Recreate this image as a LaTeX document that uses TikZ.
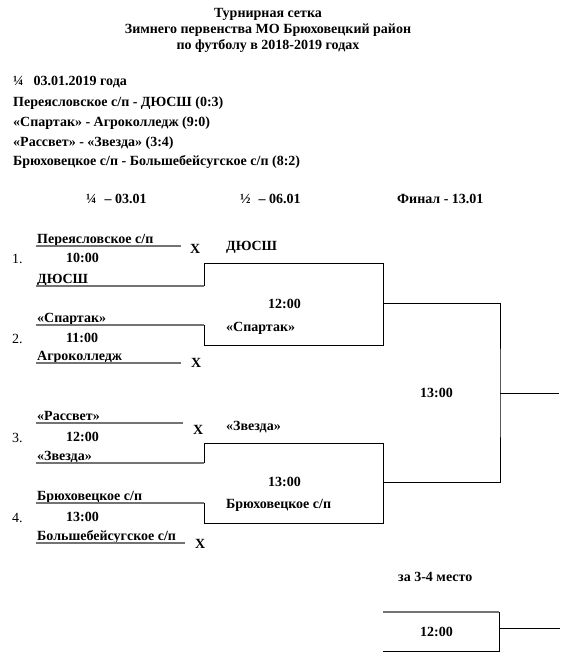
\documentclass[tikz,border=0pt]{standalone}
\usepackage{fontspec}
\setmainfont{Liberation Serif}
\usetikzlibrary{positioning}

\begin{document}
\begin{tikzpicture}[x=1pt, y=-1pt,
  every node/.style={inner sep=0pt, font=\fontsize{14}{16}\selectfont\bfseries},
  lbl/.style={anchor=base west},
  ctr/.style={anchor=base},
  plain/.style={anchor=base west, font=\fontsize{14}{16}\selectfont},
  teamline/.style={draw=black!55, line width=1.6pt},
  wire/.style={draw=black, line width=0.9pt}
]
\useasboundingbox (0,0) rectangle (564,664);

\node[ctr] (title1) at (268,17) {Турнирная сетка};
\node[ctr] (title2) at (268,33) {Зимнего первенства МО Брюховецкий район};
\node[ctr] (title3) at (268,49) {по футболу в 2018-2019 годах};

\node[lbl] (qday) at (13,85)  {¼\hspace{10pt}03.01.2019 года};
\node[lbl] (res1) at (13,106) {Переясловское с/п - ДЮСШ (0:3)};
\node[lbl] (res2) at (13,126) {«Спартак» - Агроколледж (9:0)};
\node[lbl] (res3) at (13,146) {«Рассвет» - «Звезда» (3:4)};
\node[lbl] (res4) at (13,165) {Брюховецкое с/п - Большебейсугское с/п (8:2)};

\node[lbl] (hq) at (86,203)  {¼\hspace{8pt}– 03.01};
\node[lbl] (hs) at (240,203) {½\hspace{8pt}– 06.01};
\node[lbl] (hf) at (397,203) {Финал - 13.01};

% quarter-finals
\node[lbl] (a1) at (37,243) {Переясловское с/п};
\node[lbl] (b1) at (37,283) {ДЮСШ};
\node[lbl] (a2) at (37,322) {«Спартак»};
\node[lbl] (b2) at (37,360) {Агроколледж};
\node[lbl] (a3) at (37,420) {«Рассвет»};
\node[lbl] (b3) at (37,460) {«Звезда»};
\node[lbl] (a4) at (37,500) {Брюховецкое с/п};
\node[lbl] (b4) at (37,540) {Большебейсугское с/п};

\foreach \i/\y in {1/263, 2/343, 3/442, 4/522}
  \node[plain] (n\i) at (12,\y) {\i.};
\node[lbl] (k1) at (66,262) {10:00};
\node[lbl] (k2) at (66,342) {11:00};
\node[lbl] (k3) at (66,441) {12:00};
\node[lbl] (k4) at (66,521) {13:00};

\node[lbl] (x1) at (190,253) {X};
\node[lbl] (x2) at (191,367) {X};
\node[lbl] (x3) at (193,434) {X};
\node[lbl] (x4) at (195,548) {X};

\coordinate (la1) at (36,246);  \coordinate (ra1) at (181,246);
\coordinate (lb1) at (36,286);  \coordinate (rb1) at (204,286);
\coordinate (la2) at (36,325);  \coordinate (ra2) at (204,325);
\coordinate (lb2) at (36,363);  \coordinate (rb2) at (181,363);
\coordinate (la3) at (36,423);  \coordinate (ra3) at (183,423);
\coordinate (lb3) at (36,463);  \coordinate (rb3) at (204,463);
\coordinate (la4) at (36,503);  \coordinate (ra4) at (204,503);
\coordinate (lb4) at (36,543);  \coordinate (rb4) at (185,543);

\foreach \m in {a1,b1,a2,b2,a3,b3,a4,b4}
  \draw[teamline] (l\m) -- (r\m);

% semi-finals
\coordinate (s1nw) at (204,263); \coordinate (s1se) at (383,345);
\coordinate (s2nw) at (204,443); \coordinate (s2se) at (383,523);
\draw[wire] (rb1) -- (s1nw) -| (s1se) -| (ra2);
\draw[wire] (rb3) -- (s2nw) -| (s2se) -| (ra4);

\node[lbl] (w1) at (226,250) {ДЮСШ};
\node[lbl] (g1) at (268,308) {12:00};
\node[lbl] (w2) at (226,331) {«Спартак»};
\node[lbl] (w3) at (226,430) {«Звезда»};
\node[lbl] (g2) at (268,486) {13:00};
\node[lbl] (w4) at (226,508) {Брюховецкое с/п};

% final
\coordinate (f1) at (383,303);
\coordinate (f2) at (383,482);
\coordinate (fc) at (500,393);
\coordinate (fo) at (559,393);
\draw[wire] (f1) -| (fc) |- (f2);
\draw[wire] (fc) -- (fo);
\node[lbl] (gf) at (420,397) {13:00};

% third place
\node[lbl] (third) at (398,581) {за 3-4 место};
\coordinate (t3nw) at (383,612);
\coordinate (t3ne) at (499,612);
\coordinate (t3sw) at (383,651);
\coordinate (t3e)  at (499,628);
\coordinate (t3o)  at (560,628);
\draw[teamline] (t3nw) -- (t3ne);
\draw[wire] (t3ne) |- (t3sw);
\draw[wire] (t3e) -- (t3o);
\node[lbl] (gt) at (420,636) {12:00};
\end{tikzpicture}
\end{document}
